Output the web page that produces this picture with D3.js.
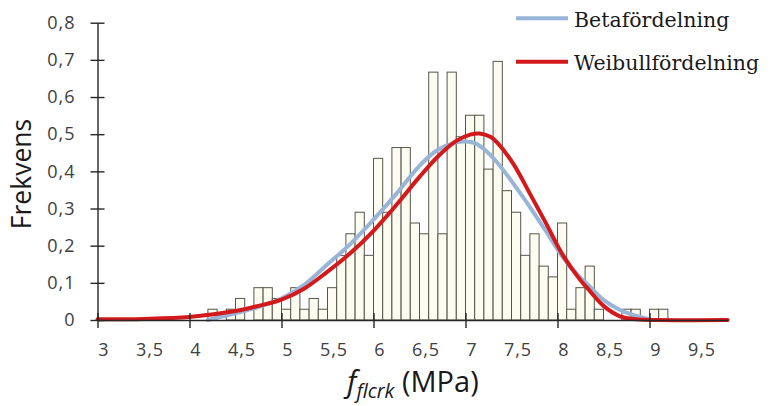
<!DOCTYPE html>
<html>
<head>
<meta charset="utf-8">
<script src="https://cdn.jsdelivr.net/npm/d3@7"></script>
<style>
    body { margin: 0; background: #fff; }
    .tick-label { font-family: "Open Sans", sans-serif; font-size: 18px; fill: #404040; letter-spacing: 1px; }
</style>
</head>
<body>
<div id="chart"></div>
<script>
// histogram: lower bin edge (MPa) and frequency, bins are 0.1 wide
let binStart = [4.2, 4.3, 4.4, 4.5, 4.6, 4.7, 4.8, 4.9, 5.0, 5.1,
    5.2, 5.3, 5.4, 5.5, 5.6, 5.7, 5.8, 5.9, 6.0, 6.1,
    6.2, 6.3, 6.4, 6.5, 6.6, 6.7, 6.8, 6.9, 7.0, 7.1,
    7.2, 7.3, 7.4, 7.5, 7.6, 7.7, 7.8, 7.9, 8.0, 8.1,
    8.2, 8.3, 8.4, 8.5, 8.6, 8.7, 8.8, 8.9, 9.0, 9.1];
let binFreq = [0.029, 0, 0.029, 0.058, 0, 0.087, 0.087, 0.058, 0.029, 0.087,
    0.029, 0.058, 0.029, 0.087, 0.174, 0.232, 0.29, 0.174, 0.435, 0.29,
    0.464, 0.464, 0.261, 0.232, 0.667, 0.232, 0.667, 0.493, 0.551, 0.551,
    0.406, 0.696, 0.348, 0.29, 0.174, 0.232, 0.145, 0.116, 0.261, 0.029,
    0.087, 0.145, 0.029, 0, 0, 0.029, 0.029, 0, 0.029, 0.029];
let binWidth = 0.1;

// fitted curves
let betaX = [4.2, 4.5, 4.75, 5.0, 5.25, 5.5, 5.75, 6.0, 6.25, 6.5, 6.7, 6.9, 7.0, 7.1,
    7.2, 7.34, 7.52, 7.7, 7.88, 8.06, 8.24, 8.32, 8.5, 8.68, 8.86, 9.0];
let betaY = [0, 0.018, 0.035, 0.058, 0.095, 0.15, 0.205, 0.27, 0.34, 0.415, 0.458, 0.478, 0.48, 0.476,
    0.46, 0.425, 0.367, 0.304, 0.237, 0.168, 0.116, 0.098, 0.054, 0.027, 0.011, 0.002];

let weibullX = [3.0, 3.5, 4.0, 4.5, 4.75, 5.0, 5.25, 5.5, 5.75, 6.0, 6.25, 6.5, 6.7, 6.9, 7.05,
    7.15, 7.27, 7.35, 7.52, 7.7, 7.88, 8.06, 8.24, 8.32, 8.5, 8.68, 8.86, 9.1, 9.85];
let weibullY = [0.002, 0.003, 0.008, 0.024, 0.038, 0.055, 0.085, 0.13, 0.18, 0.24, 0.31, 0.385, 0.44, 0.482, 0.499,
    0.502, 0.493, 0.476, 0.42, 0.34, 0.258, 0.174, 0.11, 0.087, 0.038, 0.01, 0.002, 0, 0];

let xLabelValues = [3, 3.5, 4, 4.5, 5, 5.5, 6, 6.5, 7, 7.5, 8, 8.5, 9, 9.5];
let xTickValues = [3, 4, 5, 6, 7, 8, 9];
let yTickValues = [0, 0.1, 0.2, 0.3, 0.4, 0.5, 0.6, 0.7, 0.8];
let legendNames = ["Betafördelning", "Weibullfördelning"];
let legendColors = ["#98b4d6", "#d3191c"];

drawChart();

function drawChart() {
    let svg = d3.select("#chart").append("svg")
        .attr("width", 771)
        .attr("height", 406);

    let x = d3.scaleLinear().domain([3, 9.85]).range([97.5, 727.7]);
    let y = d3.scaleLinear().domain([0, 0.8]).range([320, 22.7]);

    let comma = d => String(d).replace(".", ",");

    // bars
    let bins = binStart.map((d, i) => ({x0: d, f: binFreq[i]})).filter(d => d.f > 0);
    svg.append("g")
        .selectAll("rect")
        .data(bins)
        .enter()
        .append("rect")
        .attr("x", d => x(d.x0))
        .attr("width", d => x(d.x0 + binWidth) - x(d.x0))
        .attr("y", d => y(d.f))
        .attr("height", d => y(0) - y(d.f))
        .attr("fill", "#fcfcf0")
        .attr("stroke", "#55554a")
        .attr("stroke-width", 1);

    // curves
    let line = d3.line()
        .x(d => x(d[0]))
        .y(d => y(d[1]))
        .curve(d3.curveCatmullRom.alpha(0.5));

    let series = [betaX.map((d, i) => [d, betaY[i]]), weibullX.map((d, i) => [d, weibullY[i]])];
    series.forEach(function(s, i) {
        svg.append("path")
            .datum(s)
            .attr("d", line)
            .attr("fill", "none")
            .attr("stroke", legendColors[i])
            .attr("stroke-width", 4)
            .attr("stroke-linejoin", "round")
            .attr("stroke-linecap", "round");
    });

    // y axis
    let yAxis = svg.append("g")
        .attr("transform", "translate(" + x(3) + ",0)")
        .call(d3.axisLeft(y).tickValues(yTickValues).tickSize(7).tickSizeOuter(0).tickPadding(15).tickFormat(comma));
    yAxis.selectAll(".tick line").attr("x1", 7);
    yAxis.selectAll("text").attr("class", "tick-label").attr("font-family", null).attr("font-size", null);
    yAxis.selectAll("path, line").attr("stroke", "#262626").attr("stroke-width", 1.4);

    // x axis: labels every 0.5, cross ticks on whole numbers
    let xAxis = svg.append("g")
        .attr("transform", "translate(0," + y(0) + ")")
        .call(d3.axisBottom(x).tickValues(xLabelValues).tickSize(8).tickSizeOuter(0).tickFormat(comma));
    xAxis.selectAll(".tick line")
        .attr("y1", -7)
        .attr("display", d => xTickValues.includes(d) ? null : "none");
    xAxis.selectAll("text")
        .attr("class", "tick-label")
        .attr("font-family", null).attr("font-size", null)
        .attr("x", 6)
        .attr("y", 23);
    xAxis.selectAll("path, line").attr("stroke", "#262626").attr("stroke-width", 1.4);

    // axis titles
    svg.append("text")
        .attr("transform", "translate(31,174) rotate(-90)")
        .attr("text-anchor", "middle")
        .attr("font-family", "Open Sans, sans-serif")
        .attr("font-size", 26.5)
        .attr("fill", "#1a1a1a")
        .text("Frekvens");

    let xTitle = svg.append("text")
        .attr("x", 347)
        .attr("y", 392)
        .attr("font-family", "Open Sans, sans-serif")
        .attr("fill", "#1a1a1a");
    xTitle.append("tspan").attr("font-style", "italic").attr("font-size", 30).text("f");
    xTitle.append("tspan").attr("font-style", "italic").attr("font-size", 20).attr("dy", 6).text("flcrk");
    xTitle.append("tspan").attr("font-size", 29).attr("dy", -6).text(" (MPa)");

    // legend
    let legend = svg.append("g");
    legendNames.forEach(function(name, i) {
        let ly = 18.3 + i * 43.4;
        legend.append("line")
            .attr("x1", 516).attr("x2", 568)
            .attr("y1", ly).attr("y2", ly)
            .attr("stroke", legendColors[i])
            .attr("stroke-width", 4);
        legend.append("text")
            .attr("x", 574)
            .attr("y", ly + 8.4)
            .attr("font-family", "DejaVu Serif, serif")
            .attr("font-size", 20.5)
            .attr("fill", "#1a1a1a")
            .text(name);
    });
}
</script>
</body>
</html>
